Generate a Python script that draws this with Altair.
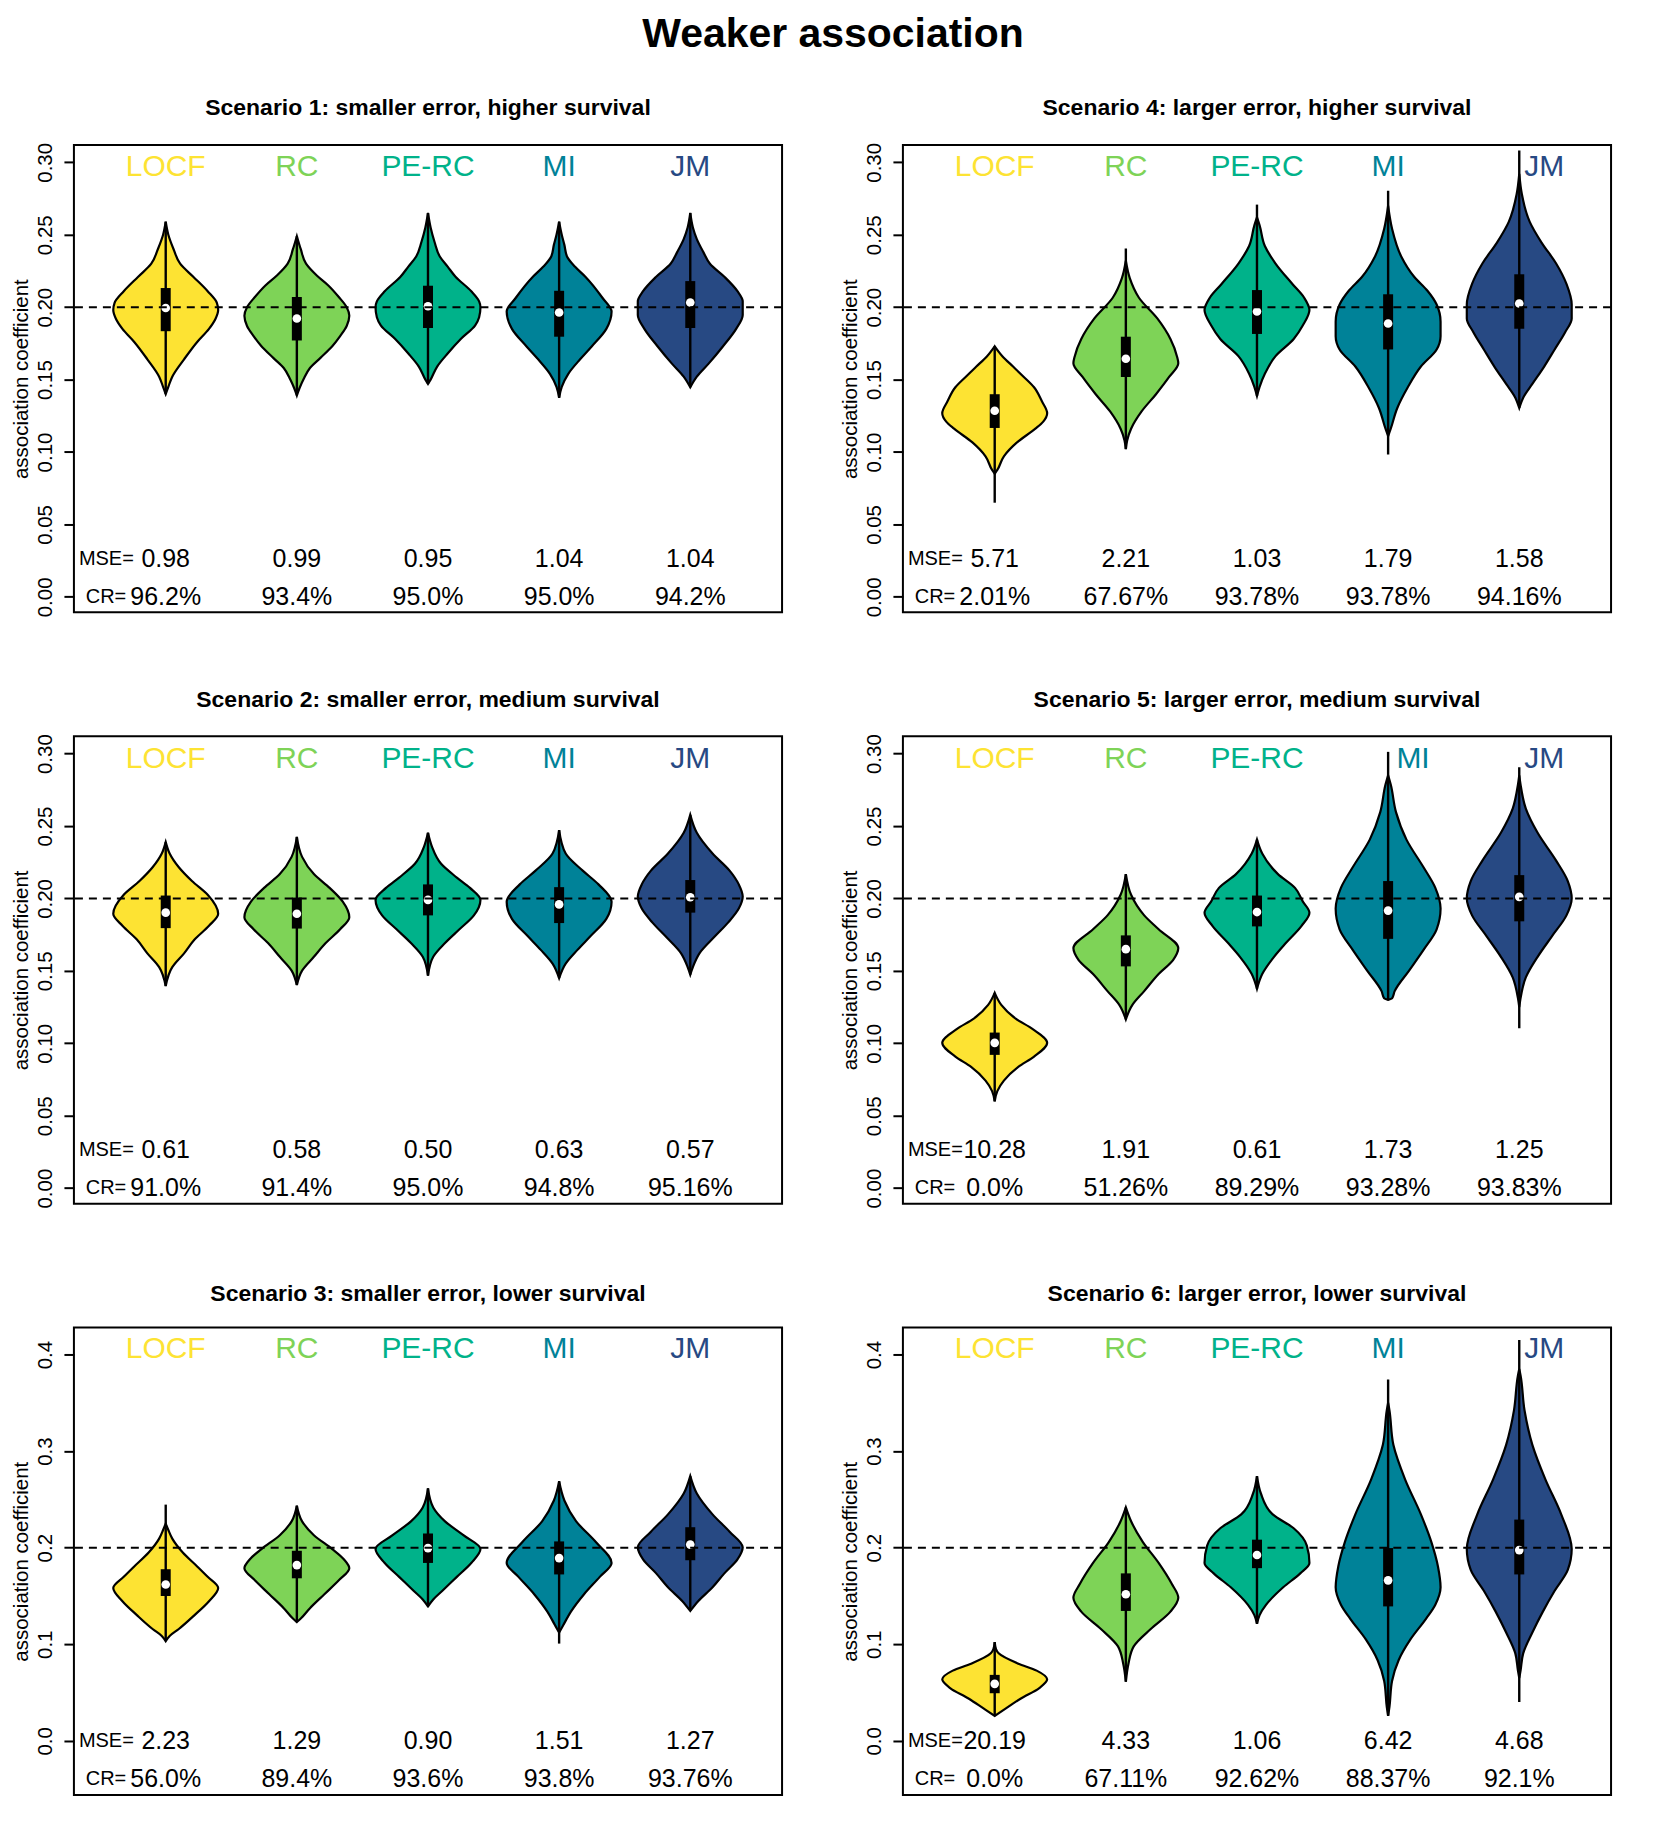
import altair as alt
import pandas as pd

FONT = "Liberation Sans"

METHODS = ["LOCF", "RC", "PE-RC", "MI", "JM"]
COLORS = ["#FDE333", "#7ED357", "#00B28A", "#008298", "#274983"]
POS = [1, 2, 3, 4, 5]

TITLES = {
    1: "Scenario 1: smaller error, higher survival",
    2: "Scenario 2: smaller error, medium survival",
    3: "Scenario 3: smaller error, lower survival",
    4: "Scenario 4: larger error, higher survival",
    5: "Scenario 5: larger error, medium survival",
    6: "Scenario 6: larger error, lower survival",
}

# MSE and coverage-rate texts
MSE_S1 = ["0.98", "0.99", "0.95", "1.04", "1.04"]
CR_S1 = ["96.2%", "93.4%", "95.0%", "95.0%", "94.2%"]
MSE_S2 = ["0.61", "0.58", "0.50", "0.63", "0.57"]
CR_S2 = ["91.0%", "91.4%", "95.0%", "94.8%", "95.16%"]
MSE_S3 = ["2.23", "1.29", "0.90", "1.51", "1.27"]
CR_S3 = ["56.0%", "89.4%", "93.6%", "93.8%", "93.76%"]
MSE_S4 = ["5.71", "2.21", "1.03", "1.79", "1.58"]
CR_S4 = ["2.01%", "67.67%", "93.78%", "93.78%", "94.16%"]
MSE_S5 = ["10.28", "1.91", "0.61", "1.73", "1.25"]
CR_S5 = ["0.0%", "51.26%", "89.29%", "93.28%", "93.83%"]
MSE_S6 = ["20.19", "4.33", "1.06", "6.42", "4.68"]
CR_S6 = ["0.0%", "67.11%", "92.62%", "88.37%", "92.1%"]

# box statistics per method: median, lower quartile, upper quartile, whisker low, whisker high
MED_S1 = [0.1994, 0.1922, 0.2006, 0.1963, 0.2032]
Q1_S1 = [0.1834, 0.1770, 0.1856, 0.1796, 0.1856]
Q3_S1 = [0.2132, 0.2070, 0.2148, 0.2113, 0.2180]
LO_S1 = [0.140, 0.139, 0.147, 0.1375, 0.1447]
HI_S1 = [0.259, 0.249, 0.265, 0.259, 0.265]

MED_S2 = [0.1902, 0.1894, 0.1990, 0.1959, 0.2008]
Q1_S2 = [0.1795, 0.1792, 0.1883, 0.1830, 0.1902]
Q3_S2 = [0.2020, 0.2006, 0.2097, 0.2078, 0.2127]
LO_S2 = [0.1395, 0.1402, 0.1467, 0.1450, 0.1474]
HI_S2 = [0.2389, 0.2425, 0.2453, 0.2472, 0.2577]

MED_S3 = [0.1619, 0.1820, 0.1996, 0.1892, 0.2032]
Q1_S3 = [0.1500, 0.1683, 0.1842, 0.1723, 0.1870]
Q3_S3 = [0.1777, 0.1968, 0.2147, 0.2065, 0.2212]
LO_S3 = [0.1032, 0.1230, 0.1392, 0.1007, 0.1345]
HI_S3 = [0.2446, 0.2435, 0.2615, 0.2687, 0.2741]

MED_S4 = [0.1285, 0.1644, 0.1970, 0.1887, 0.2025]
Q1_S4 = [0.1166, 0.1518, 0.1815, 0.1708, 0.1851]
Q3_S4 = [0.1399, 0.1796, 0.2118, 0.2089, 0.2227]
LO_S4 = [0.0650, 0.1020, 0.1387, 0.0983, 0.1304]
HI_S4 = [0.1730, 0.2405, 0.2708, 0.2803, 0.3081]

MED_S5 = [0.1003, 0.1650, 0.1906, 0.1916, 0.2011]
Q1_S5 = [0.0920, 0.1531, 0.1807, 0.1721, 0.1842]
Q3_S5 = [0.1074, 0.1745, 0.2020, 0.2120, 0.2161]
LO_S5 = [0.0599, 0.1165, 0.1376, 0.1300, 0.1103]
HI_S5 = [0.1348, 0.2168, 0.2406, 0.3012, 0.2905]

MED_S6 = [0.0590, 0.1518, 0.1924, 0.1662, 0.1975]
Q1_S6 = [0.0493, 0.1345, 0.1788, 0.1392, 0.1723]
Q3_S6 = [0.0683, 0.1734, 0.2083, 0.1996, 0.2291]
LO_S6 = [0.0259, 0.0612, 0.1212, 0.0259, 0.0403]
HI_S6 = [0.1022, 0.2417, 0.2741, 0.3741, 0.4151]

# violin outlines: (value, half width in method units)
VIOLIN_S1 = [
    [(.259, 0), (.250, .02), (.240, .06), (.230, .11), (.221, .21), (.211, .32), (.203, .39), (.198, .40),
     (.192, .38), (.185, .33), (.176, .24), (.164, .14), (.152, .05), (.145, .02), (.140, 0)],
    [(.249, 0), (.240, .03), (.230, .07), (.222, .15), (.215, .24), (.207, .32), (.200, .38), (.194, .40),
     (.187, .38), (.180, .33), (.173, .27), (.165, .18), (.158, .10), (.150, .05), (.144, .02), (.139, 0)],
    [(.265, 0), (.255, .02), (.245, .05), (.235, .09), (.228, .15), (.221, .21), (.211, .33), (.204, .39),
     (.200, .40), (.193, .39), (.1875, .36), (.178, .25), (.168, .15), (.159, .07), (.150, .02), (.147, 0)],
    [(.259, 0), (.250, .02), (.243, .04), (.235, .06), (.228, .12), (.221, .20), (.2065, .33), (.197, .40),
     (.185, .36), (.173, .25), (.164, .16), (.154, .07), (.145, .02), (.1375, 0)],
    [(.265, 0), (.255, .02), (.247, .05), (.238, .10), (.230, .15), (.221, .26), (.211, .36), (.204, .40),
     (.1946, .40), (.185, .35), (.173, .25), (.161, .14), (.152, .05), (.1447, 0)],
]
VIOLIN_S2 = [
    [(.2389, 0), (.231, .03), (.2215, .10), (.212, .20), (.2025, .32), (.1894, .40), (.1811, .33),
     (.1716, .22), (.1621, .14), (.1526, .05), (.1395, 0)],
    [(.2425, 0), (.2287, .04), (.2168, .13), (.2073, .25), (.1978, .35), (.1871, .40), (.1787, .33),
     (.1692, .22), (.1597, .13), (.1502, .04), (.1402, 0)],
    [(.2453, 0), (.2358, .03), (.2239, .10), (.2144, .22), (.2073, .32), (.199, .40), (.1883, .35),
     (.1787, .24), (.1692, .13), (.1597, .04), (.1467, 0)],
    [(.2472, 0), (.231, .05), (.2192, .18), (.2097, .30), (.1978, .40), (.1859, .36), (.174, .24),
     (.1645, .14), (.155, .05), (.145, 0)],
    [(.2577, 0), (.2453, .05), (.231, .17), (.2192, .30), (.2097, .37), (.2013, .40), (.193, .37),
     (.1835, .29), (.174, .19), (.1621, .07), (.1526, .02), (.1474, 0)],
]
VIOLIN_S3 = [
    [(.225, 0), (.2183, .02), (.2094, .05), (.195, .13), (.1806, .24), (.1698, .32), (.1583, .40),
     (.1446, .33), (.1302, .22), (.1158, .10), (.1086, .03), (.1032, 0)],
    [(.2435, 0), (.2273, .04), (.2129, .13), (.1986, .27), (.1878, .36), (.1788, .40), (.1662, .32),
     (.1518, .21), (.1374, .10), (.1266, .03), (.123, 0)],
    [(.2615, 0), (.2417, .04), (.2273, .13), (.2129, .27), (.1986, .40), (.1842, .33), (.1698, .22),
     (.1554, .11), (.1464, .04), (.1392, 0)],
    [(.2687, 0), (.2489, .04), (.2273, .13), (.2058, .28), (.1842, .40), (.1698, .31), (.1518, .19),
     (.1338, .09), (.1194, .03), (.1122, 0)],
    [(.2741, 0), (.2561, .05), (.2345, .17), (.2165, .30), (.2004, .40), (.1878, .36), (.1734, .26),
     (.159, .17), (.1446, .06), (.1345, 0)],
]
VIOLIN_S4 = [
    [(.173, 0), (.166, .06), (.159, .14), (.152, .22), (.1447, .30), (.135, .36), (.1268, .40), (.121, .37),
     (.1161, .31), (.1066, .17), (.097, .07), (.0876, .02), (.085, 0)],
    [(.232, 0), (.220, .03), (.2065, .10), (.1922, .24), (.178, .34), (.166, .39), (.1613, .40), (.1518, .33),
     (.1399, .23), (.128, .12), (.1161, .04), (.108, .01), (.102, 0)],
    [(.262, 0), (.2565, .02), (.2422, .06), (.2303, .14), (.216, .27), (.2065, .36), (.198, .40), (.1875, .35),
     (.178, .28), (.166, .14), (.154, .06), (.145, .02), (.1387, 0)],
    [(.270, 0), (.2541, .03), (.235, .10), (.2208, .20), (.2113, .30), (.2018, .37), (.190, .40), (.180, .40),
     (.1708, .37), (.159, .25), (.1447, .15), (.1304, .07), (.1161, .02), (.111, 0)],
    [(.292, 0), (.2779, .02), (.2589, .08), (.2446, .17), (.2303, .28), (.216, .36), (.2018, .40), (.1922, .40),
     (.1827, .35), (.1708, .27), (.159, .19), (.147, .10), (.1375, .03), (.1304, 0)],
]
VIOLIN_S5 = [
    [(.1348, 0), (.1265, .05), (.117, .16), (.1098, .29), (.1003, .40), (.0908, .30), (.0837, .18),
     (.0742, .07), (.067, .02), (.0599, 0)],
    [(.2168, 0), (.2025, .04), (.1883, .14), (.1787, .25), (.1657, .40), (.1574, .36), (.1478, .25),
     (.136, .14), (.1265, .05), (.1165, 0)],
    [(.2406, 0), (.231, .04), (.2168, .16), (.2073, .29), (.1978, .35), (.1902, .40), (.1811, .34),
     (.1692, .22), (.1597, .13), (.1478, .04), (.1376, 0)],
    [(.285, 0), (.2786, .02), (.2596, .06), (.2406, .14), (.2215, .27), (.2073, .36), (.193, .40),
     (.1787, .37), (.1645, .27), (.1502, .16), (.136, .05), (.131, .03), (.130, 0)],
    [(.285, 0), (.2786, .01), (.262, .05), (.2453, .14), (.2263, .28), (.212, .37), (.2001, .40),
     (.1883, .36), (.174, .25), (.1597, .14), (.1455, .05), (.1312, .01), (.125, 0)],
]
VIOLIN_S6 = [
    [(.1022, 0), (.095, .01), (.0906, .03), (.0799, .18), (.0727, .32), (.0637, .40), (.0547, .34),
     (.0439, .20), (.0331, .08), (.0259, 0)],
    [(.2417, 0), (.2273, .04), (.2058, .13), (.1842, .25), (.1626, .35), (.1482, .40), (.1338, .34),
     (.1158, .19), (.0978, .06), (.0799, .02), (.0612, 0)],
    [(.2741, 0), (.2561, .03), (.2345, .12), (.2201, .28), (.2022, .38), (.1842, .40), (.1734, .33),
     (.159, .20), (.141, .07), (.1302, .02), (.1212, 0)],
    [(.350, 0), (.3424, .01), (.3065, .04), (.2705, .13), (.2345, .25), (.2058, .33), (.1806, .38),
     (.159, .40), (.141, .36), (.1266, .29), (.105, .17), (.0835, .08), (.0619, .03), (.035, .01), (.0259, 0)],
    [(.385, 0), (.3784, .01), (.3424, .04), (.3065, .10), (.2705, .20), (.2345, .32), (.1986, .40),
     (.177, .37), (.1554, .27), (.1338, .18), (.1122, .10), (.0906, .03), (.0727, .01), (.065, 0)],
]

LABEL_X_LEFT = [1, 2, 3, 4, 5]
LABEL_X_S4 = [1, 2, 3, 4, 5.19]
LABEL_X_S5 = [1, 2, 3, 4.19, 5.19]
LABEL_X_S6 = [1, 2, 3, 4, 5.19]

SCEN = {
    1: (VIOLIN_S1, MED_S1, Q1_S1, Q3_S1, LO_S1, HI_S1, MSE_S1, CR_S1, LABEL_X_LEFT),
    2: (VIOLIN_S2, MED_S2, Q1_S2, Q3_S2, LO_S2, HI_S2, MSE_S2, CR_S2, LABEL_X_LEFT),
    3: (VIOLIN_S3, MED_S3, Q1_S3, Q3_S3, LO_S3, HI_S3, MSE_S3, CR_S3, LABEL_X_LEFT),
    4: (VIOLIN_S4, MED_S4, Q1_S4, Q3_S4, LO_S4, HI_S4, MSE_S4, CR_S4, LABEL_X_S4),
    5: (VIOLIN_S5, MED_S5, Q1_S5, Q3_S5, LO_S5, HI_S5, MSE_S5, CR_S5, LABEL_X_S5),
    6: (VIOLIN_S6, MED_S6, Q1_S6, Q3_S6, LO_S6, HI_S6, MSE_S6, CR_S6, LABEL_X_S6),
}

W, H = 709, 468


def panel(sid):
    vio, med, q1, q3, lo, hi, mse, cr, labx = SCEN[sid]
    big = sid in (3, 6)
    if big:
        dom = [-0.056, 0.428]
        ticks = [0.0, 0.1, 0.2, 0.3, 0.4]
        fmt = ".1f"
        lab_y, mse_y, cr_y = 0.406, 0.0, -0.040
    else:
        dom = [-0.0107, 0.312]
        ticks = [0.0, 0.05, 0.10, 0.15, 0.20, 0.25, 0.30]
        fmt = ".2f"
        lab_y, mse_y, cr_y = 0.2965, 0.026, 0.0

    ys = alt.Scale(domain=dom, nice=False, zero=False)
    xs = alt.Scale(domain=[0.3, 5.7], nice=False, zero=False)
    cs = alt.Scale(domain=METHODS, range=COLORS)
    yaxis = alt.Axis(values=ticks, format=fmt, labelAngle=270, labelAlign="center",
                     labelBaseline="alphabetic", labelPadding=12, labelFontSize=20.5, labelFont=FONT,
                     labelColor="black", tickSize=10, tickWidth=2, tickColor="black", domain=False,
                     grid=False, title="association coefficient", titleFont=FONT, titleFontSize=20.5,
                     titleFontWeight="normal", titleColor="black", titleAngle=270, titleAlign="center",
                     titleBaseline="alphabetic", titleX=-46, titleY=H / 2)

    rows = []
    for m, p, prof in zip(METHODS, POS, vio):
        for v, w in prof:
            rows.append({"method": m, "y": v, "xl": p - w, "xr": p + w})
    dv = pd.DataFrame(rows).sort_values(["method", "y"])

    ds = pd.DataFrame({"method": METHODS, "pos": POS, "med": med, "q1": q1, "q3": q3,
                       "lo": lo, "hi": hi, "mse": mse, "cr": cr, "labx": labx,
                       "laby": [lab_y] * 5, "msey": [mse_y] * 5, "cry": [cr_y] * 5})
    dp = pd.DataFrame({"t": ["MSE=", "CR="], "x": [0.338, 0.39], "y": [mse_y, cr_y]})
    dref = pd.DataFrame({"ref": [0.2]})

    X = lambda f: alt.X(f, scale=xs, axis=None)
    Y = lambda f: alt.Y(f, scale=ys, axis=yaxis)

    area = alt.Chart(dv).mark_area(orient="horizontal", interpolate="monotone", stroke="black",
                                   strokeWidth=2.2, fillOpacity=1).encode(
        y=Y("y:Q"), x=X("xl:Q"), x2="xr:Q",
        fill=alt.Fill("method:N", scale=cs, legend=None), detail="method:N")
    whisk = alt.Chart(ds).mark_rule(color="black", strokeWidth=2.4).encode(
        x=X("pos:Q"), y=Y("lo:Q"), y2="hi:Q")
    box = alt.Chart(ds).mark_rule(color="black", strokeWidth=10, strokeCap="butt").encode(
        x=X("pos:Q"), y=Y("q1:Q"), y2="q3:Q")
    dot = alt.Chart(ds).mark_point(shape="circle", filled=True, fill="white", color="white",
                                   size=75, opacity=1, strokeWidth=0).encode(x=X("pos:Q"), y=Y("med:Q"))
    dash = alt.Chart(dref).mark_rule(color="black", strokeWidth=2, strokeDash=[8, 6]).encode(y=Y("ref:Q"))
    labels = alt.Chart(ds).mark_text(font=FONT, fontSize=30, align="center", baseline="middle").encode(
        x=X("labx:Q"), y=Y("laby:Q"), text="method:N",
        color=alt.Color("method:N", scale=cs, legend=None))
    mset = alt.Chart(ds).mark_text(font=FONT, fontSize=25, align="center", baseline="middle",
                                   color="black").encode(x=X("pos:Q"), y=Y("msey:Q"), text="mse:N")
    crt = alt.Chart(ds).mark_text(font=FONT, fontSize=25, align="center", baseline="middle",
                                  color="black").encode(x=X("pos:Q"), y=Y("cry:Q"), text="cr:N")
    pref = alt.Chart(dp).mark_text(font=FONT, fontSize=20, align="left", baseline="middle",
                                   color="black").encode(x=X("x:Q"), y=Y("y:Q"), text="t:N")

    return alt.layer(area, whisk, box, dot, dash, labels, mset, crt, pref).properties(
        width=W, height=H,
        title=alt.TitleParams(TITLES[sid], font=FONT, fontSize=23, fontWeight="bold", color="black",
                              anchor="middle", frame="group", offset=22))


chart = alt.concat(panel(1), panel(4), panel(2), panel(5), panel(3), panel(6),
                   columns=2, spacing={"row": 124, "column": 121}, bounds="flush").properties(
    title=alt.TitleParams("Weaker association", font=FONT, fontSize=41, fontWeight="bold",
                          color="black", anchor="middle", offset=40, dx=21),
    padding={"left": 3, "top": 5, "right": 40, "bottom": 10},
    background="white",
).configure_view(stroke="black", strokeWidth=2)

chart.save("out.html", embed_options={"renderer": "svg", "actions": False})
